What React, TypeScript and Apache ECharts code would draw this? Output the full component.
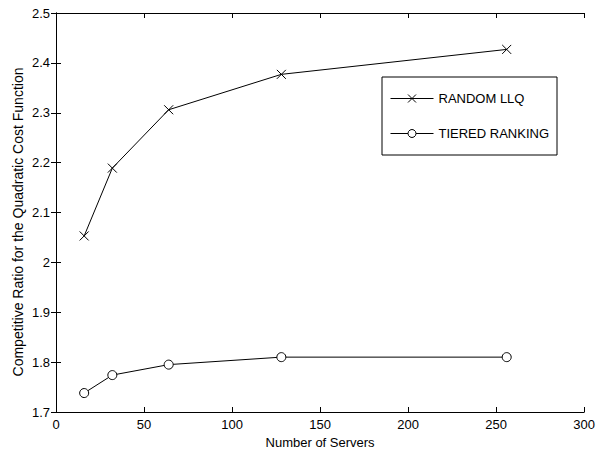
import React, { useEffect, useRef } from "react";
import * as echarts from "echarts";

const servers = [16, 32, 64, 128, 256];
const randomLLQ = [2.053, 2.189, 2.306, 2.377, 2.427];
const tieredRanking = [1.738, 1.774, 1.795, 1.81, 1.81];
const seriesNames = ["RANDOM LLQ", "TIERED RANKING"];
const xTitle = "Number of Servers";
const yTitle = "Competitive Ratio for the Quadratic Cost Function";

const FONT = "'Liberation Sans', Arial, sans-serif";

export default function App() {
  const ref = useRef<HTMLDivElement>(null);
  useEffect(() => {
    document.body.style.margin = "0";
    const chart = echarts.init(ref.current!, null, { renderer: "svg" });
    const axisLine = { show: true, lineStyle: { color: "#000", width: 1 } };
    const tick = { show: true, inside: true, length: 5, lineStyle: { color: "#000", width: 1 } };
    const label = { color: "#000", fontFamily: FONT, fontSize: 13 };
    chart.setOption({
      animation: false,
      backgroundColor: "#fff",
      grid: { left: 56, right: 13, top: 13, bottom: 41 },
      legend: {
        show: true,
        orient: "vertical",
        left: 382,
        top: 77,
        padding: [15, 8, 15, 8],
        itemGap: 22,
        itemWidth: 43,
        itemHeight: 10,
        borderColor: "#000",
        borderWidth: 1,
        backgroundColor: "#fff",
        itemStyle: { borderWidth: 1 },
        lineStyle: { width: 1 },
        textStyle: { color: "#000", fontFamily: FONT, fontSize: 13 },
        data: seriesNames,
      },
      graphic: [
        {
          type: "text",
          x: 18,
          y: 222,
          rotation: Math.PI / 2,
          style: {
            text: yTitle,
            fill: "#000",
            font: `14px ${FONT}`,
            align: "center",
            verticalAlign: "middle",
          },
        },
      ],
      xAxis: [
        {
          type: "value",
          min: 0,
          max: 300,
          interval: 50,
          position: "bottom",
          name: xTitle,
          nameLocation: "middle",
          nameGap: 24,
          nameTextStyle: label,
          axisLine,
          axisTick: tick,
          axisLabel: { ...label, margin: 6 },
          splitLine: { show: false },
        },
        {
          type: "value",
          min: 0,
          max: 300,
          interval: 50,
          position: "top",
          axisLine,
          axisTick: tick,
          axisLabel: { show: false },
          splitLine: { show: false },
        },
      ],
      yAxis: [
        {
          type: "value",
          min: 1.7,
          max: 2.5,
          interval: 0.1,
          position: "left",
          axisLine,
          axisTick: tick,
          axisLabel: { ...label, margin: 6, formatter: (v: number) => String(Math.round(v * 10) / 10) },
          splitLine: { show: false },
        },
        {
          type: "value",
          min: 1.7,
          max: 2.5,
          interval: 0.1,
          position: "right",
          axisLine,
          axisTick: tick,
          axisLabel: { show: false },
          splitLine: { show: false },
        },
      ],
      series: [
        {
          name: seriesNames[0],
          type: "line",
          data: servers.map((x, i) => [x, randomLLQ[i]]),
          symbol: "path://M0,0L10,10M10,0L0,10",
          symbolSize: 9,
          showAllSymbol: true,
          lineStyle: { color: "#000", width: 1 },
          itemStyle: { color: "none", borderColor: "#000", borderWidth: 1 },
        },
        {
          name: seriesNames[1],
          type: "line",
          data: servers.map((x, i) => [x, tieredRanking[i]]),
          symbol: "circle",
          symbolSize: 9,
          showAllSymbol: true,
          lineStyle: { color: "#000", width: 1 },
          itemStyle: { color: "#fff", borderColor: "#000", borderWidth: 1 },
        },
      ],
    });
    return () => chart.dispose();
  }, []);
  return <div ref={ref} style={{ width: 598, height: 454 }} />;
}
